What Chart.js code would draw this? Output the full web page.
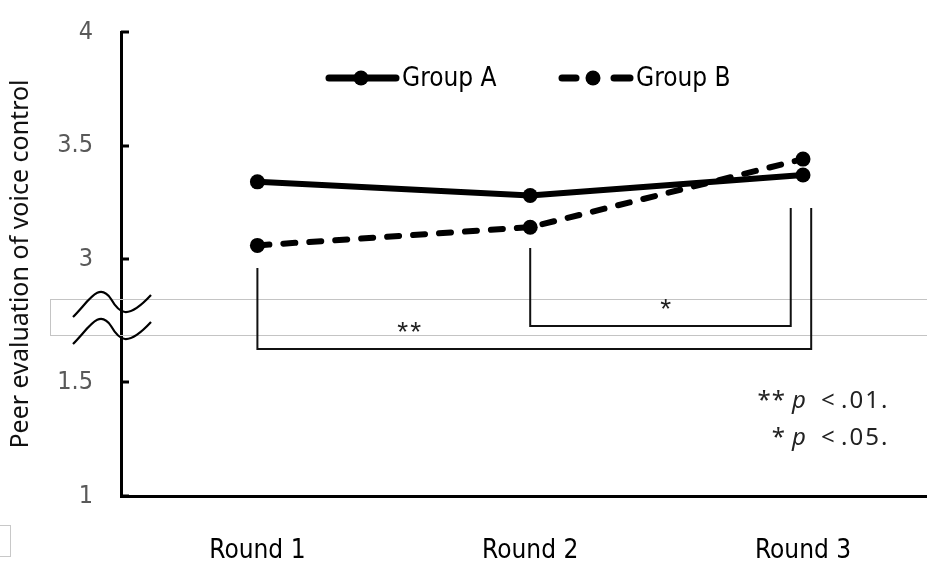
<!DOCTYPE html>
<html>
<head>
<meta charset="utf-8">
<script src="https://cdn.jsdelivr.net/npm/chart.js@4.4.1/dist/chart.umd.min.js"></script>
<style>
  html, body { margin: 0; padding: 0; background: #fff; overflow: hidden; }
  #wrap { position: relative; width: 927px; height: 571px; overflow: hidden; }
  #corner { position: absolute; left: -1px; top: 525px; width: 10px; height: 30px; border: 1px solid #c8c8c8; }
</style>
</head>
<body>
<div id="wrap">
  <canvas id="chart" width="936" height="571"></canvas>
  <div id="corner"></div>
</div>
<script>
// data
const rounds = ["Round 1", "Round 2", "Round 3"];
const groupA = [3.34, 3.28, 3.37];
const groupB = [3.06, 3.14, 3.44];

// y axis is broken between 1.5 and 3; values below the break are shifted up
const breakShift = 0.956;
const yTickValues = [1, 1.5, 3, 3.5, 4];
const yTickLabels = ["1", "1.5", "3", "3.5", "4"];
const toAxis = v => (v < 2.5 ? v + breakShift : v);

// significance brackets (axis units)
const brackets = [
  { label: "**", from: 1, to: 3.03, yLeft: 2.96, yRight: 3.225, bar: 2.604, labelX: 1.56, labelY: 2.70 },
  { label: "*", from: 2, to: 2.955, yLeft: 3.048, yRight: 3.225, bar: 2.705, labelX: 2.5, labelY: 2.802 }
];

const narrow = '"DejaVu Sans", sans-serif';

const extras = {
  id: "extras",
  beforeDatasetsDraw(chart) {
    const { ctx, scales: { x, y }, chartArea } = chart;
    ctx.save();
    // light band across the break
    const bandTop = y.getPixelForValue(2.824);
    const bandBot = y.getPixelForValue(2.665);
    ctx.strokeStyle = "#c4c4c4";
    ctx.lineWidth = 1;
    ctx.strokeRect(50.5, Math.round(bandTop) + 0.5, 1000, Math.round(bandBot - bandTop));

    // inner tick marks on the y axis
    ctx.strokeStyle = "#000";
    ctx.lineWidth = 3;
    yTickValues.forEach(v => {
      const py = Math.round(y.getPixelForValue(toAxis(v)));
      ctx.beginPath();
      ctx.moveTo(chartArea.left, py);
      ctx.lineTo(chartArea.left + 8, py);
      ctx.stroke();
    });

    // brackets
    ctx.lineWidth = 2;
    ctx.strokeStyle = "#111";
    brackets.forEach(b => {
      const x1 = x.getPixelForValue(b.from), x2 = x.getPixelForValue(b.to);
      const yb = y.getPixelForValue(b.bar);
      ctx.beginPath();
      ctx.moveTo(x1, y.getPixelForValue(b.yLeft));
      ctx.lineTo(x1, yb);
      ctx.lineTo(x2, yb);
      ctx.lineTo(x2, y.getPixelForValue(b.yRight));
      ctx.stroke();
      ctx.fillStyle = "#222";
      ctx.font = '28px "Liberation Sans", sans-serif';
      ctx.letterSpacing = "2px";
      ctx.textAlign = "center";
      ctx.textBaseline = "middle";
      ctx.fillText(b.label, x.getPixelForValue(b.labelX), y.getPixelForValue(b.labelY) + 6);
    });
    ctx.letterSpacing = "0px";

    // wavy break marks over the axis
    const cx = chartArea.left;
    const cy = (bandTop + bandBot) / 2;
    ctx.lineWidth = 2.2;
    ctx.strokeStyle = "#000";
    [-14, 13].forEach(dy => {
      const o = cy + dy;
      ctx.beginPath();
      ctx.moveTo(cx - 48, o + 14);
      ctx.bezierCurveTo(cx - 32, o - 2, cx - 22, o - 22, cx - 10, o - 4);
      ctx.bezierCurveTo(cx - 2, o + 10, cx + 6, o + 18, cx + 30, o - 8);
      ctx.stroke();
    });
    ctx.restore();
  },
  afterDraw(chart) {
    const { ctx } = chart;
    ctx.save();
    // legend
    ctx.strokeStyle = "#000";
    ctx.fillStyle = "#000";
    ctx.lineCap = "round";
    ctx.lineWidth = 7;
    ctx.beginPath();
    ctx.moveTo(329, 78); ctx.lineTo(396, 78);
    ctx.stroke();
    ctx.beginPath(); ctx.arc(361, 78, 7.5, 0, Math.PI * 2); ctx.fill();
    [[562, 576], [614, 630]].forEach(([a, b]) => {
      ctx.beginPath(); ctx.moveTo(a, 78); ctx.lineTo(b, 78); ctx.stroke();
    });
    ctx.beginPath(); ctx.arc(593, 78, 7.5, 0, Math.PI * 2); ctx.fill();
    ctx.font = 'condensed 26px ' + narrow;
    ctx.textBaseline = "middle";
    ctx.textAlign = "left";
    ctx.fillText("Group A", 402, 79);
    ctx.fillText("Group B", 636, 79);

    // p-value note
    ctx.fillStyle = "#222";
    ctx.font = '24px "Noto Sans", sans-serif';
    ctx.textAlign = "right";
    ctx.letterSpacing = "1px";
    ctx.fillText("**", 786, 401);
    ctx.fillText("*", 786, 438);
    ctx.letterSpacing = "0px";
    ctx.textAlign = "left";
    ctx.font = 'italic 24px "Noto Sans", sans-serif';
    ctx.fillText("p", 792, 401);
    ctx.fillText("p", 792, 438);
    ctx.font = '24px "Noto Sans", sans-serif';
    ctx.fillText("<", 821, 401);
    ctx.fillText("<", 821, 438);
    ctx.letterSpacing = "2px";
    ctx.fillText(".01.", 841, 401);
    ctx.fillText(".05.", 841, 438);
    ctx.restore();
  }
};

new Chart(document.getElementById("chart").getContext("2d"), {
  type: "line",
  data: {
    datasets: [
      {
        label: "Group A",
        data: groupA.map((v, i) => ({ x: i + 1, y: v })),
        borderColor: "#000",
        backgroundColor: "#000",
        borderWidth: 6,
        pointRadius: 7.5,
        pointBorderWidth: 0,
        tension: 0
      },
      {
        label: "Group B",
        data: groupB.map((v, i) => ({ x: i + 1, y: v })),
        borderColor: "#000",
        backgroundColor: "#000",
        borderWidth: 6,
        borderDash: [12, 14],
        borderCapStyle: "round",
        pointRadius: 7.5,
        pointBorderWidth: 0,
        tension: 0
      }
    ]
  },
  options: {
    responsive: false,
    animation: false,
    layout: { padding: { top: 32, right: 0, left: 0, bottom: 0 } },
    plugins: { legend: { display: false }, tooltip: { enabled: false } },
    scales: {
      x: {
        type: "linear",
        min: 0.5,
        max: 3.46,
        afterBuildTicks: s => { s.ticks = rounds.map((r, i) => ({ value: i + 1 })); },
        afterFit: s => { s.height = 75; },
        grid: { display: false, drawTicks: false },
        border: { display: true, color: "#000", width: 3 },
        ticks: {
          padding: 40,
          color: "#000",
          font: { family: narrow, size: 26, weight: "condensed" },
          callback: v => rounds[v - 1]
        }
      },
      y: {
        type: "linear",
        min: toAxis(1),
        max: 4,
        afterBuildTicks: s => { s.ticks = yTickValues.map(v => ({ value: toAxis(v) })); },
        afterFit: s => { s.width = 121; s.paddingTop = 0; s.paddingBottom = 0; },
        grid: { display: false, drawTicks: false },
        border: { display: true, color: "#000", width: 3 },
        ticks: {
          padding: 28,
          color: "#595959",
          font: { family: narrow, size: 25, weight: "condensed" },
          callback: (v, i) => yTickLabels[i]
        },
        title: {
          display: true,
          text: "Peer evaluation of voice control",
          color: "#111",
          font: { family: '"Noto Sans", sans-serif', size: 25 },
          padding: { top: 6, bottom: 0 }
        }
      }
    }
  },
  plugins: [extras]
});
</script>
</body>
</html>
